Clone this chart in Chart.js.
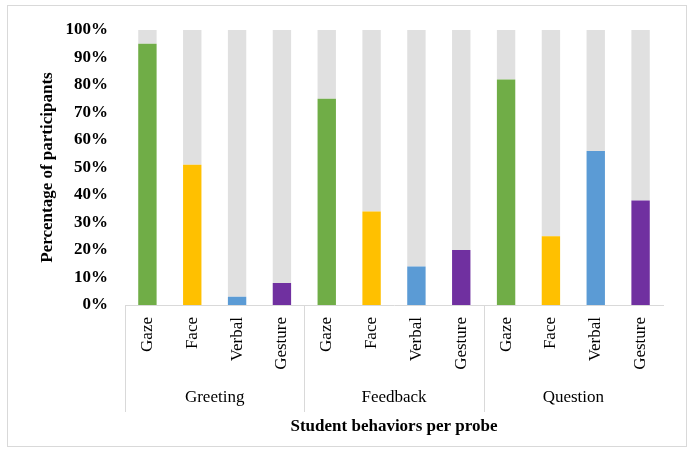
<!DOCTYPE html>
<html>
<head>
<meta charset="utf-8">
<script src="https://cdn.jsdelivr.net/npm/chart.js@4.4.1/dist/chart.umd.min.js"></script>
<style>
html, body { margin: 0; padding: 0; background: #fff; }
#wrap { width: 700px; height: 455px; position: relative; }
</style>
</head>
<body>
<div id="wrap"><canvas id="chart-canvas"></canvas></div>
<script>
// data
const behaviors = ['Gaze', 'Face', 'Verbal', 'Gesture'];
const probes = ['Greeting', 'Feedback', 'Question'];
const greetingPct = [95, 51, 3, 8];
const feedbackPct = [75, 34, 14, 20];
const questionPct = [82, 25, 56, 38];
const yTicks = [0, 10, 20, 30, 40, 50, 60, 70, 80, 90, 100];

const behaviorColors = ['#70AD47', '#FFC000', '#5B9BD5', '#7030A0'];
const restColor = '#E0E0E0';
const serif = '"Liberation Serif", "Times New Roman", serif';

const labels = [], values = [], colors = [];
[greetingPct, feedbackPct, questionPct].forEach(arr => {
    arr.forEach((v, i) => { labels.push(behaviors[i]); values.push(v); colors.push(behaviorColors[i]); });
});
const rest = values.map(v => 100 - v);

// frame, group separators and probe names under the axis
const groupPlugin = {
    id: 'groups',
    beforeDraw(chart) {
        const ctx = chart.ctx;
        ctx.save();
        ctx.strokeStyle = '#D9D9D9'; ctx.lineWidth = 1;
        ctx.strokeRect(7.5, 5.5, 679, 441);
        ctx.restore();
    },
    afterDraw(chart) {
        const ctx = chart.ctx, xs = chart.scales.x, area = chart.chartArea;
        const per = behaviors.length;
        ctx.save();
        ctx.strokeStyle = '#D9D9D9'; ctx.lineWidth = 1;
        ctx.fillStyle = '#000'; ctx.font = '17px ' + serif;
        ctx.textAlign = 'center'; ctx.textBaseline = 'middle';
        probes.forEach((p, g) => {
            const a = g === 0 ? xs.left : (xs.getPixelForValue(g * per - 1) + xs.getPixelForValue(g * per)) / 2;
            const b = g === probes.length - 1 ? xs.right : (xs.getPixelForValue((g + 1) * per - 1) + xs.getPixelForValue((g + 1) * per)) / 2;
            const x = Math.round(a) + 0.5;
            ctx.beginPath(); ctx.moveTo(x, area.bottom); ctx.lineTo(x, 412); ctx.stroke();
            ctx.fillText(p, (a + b) / 2, 398);
        });
        ctx.restore();
    }
};

new Chart(document.getElementById('chart-canvas'), {
    type: 'bar',
    data: {
        labels: labels,
        datasets: [
            { data: values, backgroundColor: colors },
            { data: rest, backgroundColor: restColor }
        ]
    },
    options: {
        responsive: true, maintainAspectRatio: false, animation: false,
        layout: { padding: { top: 30, right: 37, bottom: 0, left: 0 } },
        plugins: { legend: { display: false }, tooltip: { enabled: false } },
        datasets: { bar: { barPercentage: 0.41, categoryPercentage: 1 } },
        scales: {
            x: {
                stacked: true,
                grid: { display: false, drawTicks: false },
                border: { display: true, color: '#D9D9D9' },
                ticks: { autoSkip: false, minRotation: 90, maxRotation: 90, padding: 12, color: '#000', font: { family: serif, size: 17 } },
                title: { display: true, text: 'Student behaviors per probe', color: '#000', padding: { bottom: 18 }, font: { family: serif, size: 17, weight: 'bold' } },
                afterFit(s) { s.height = 150; }
            },
            y: {
                stacked: true, min: 0, max: 100,
                afterBuildTicks(s) { s.ticks = yTicks.map(v => ({ value: v })); },
                grid: { display: false, drawTicks: false },
                border: { display: false },
                ticks: { padding: 17, color: '#000', callback: v => v + '%', font: { family: serif, size: 17, weight: 'bold' } },
                title: { display: true, text: 'Percentage of participants', color: '#000', padding: { top: 37 }, font: { family: serif, size: 17, weight: 'bold' } },
                afterFit(s) { s.width = 125; }
            }
        }
    },
    plugins: [groupPlugin]
});
</script>
</body>
</html>
